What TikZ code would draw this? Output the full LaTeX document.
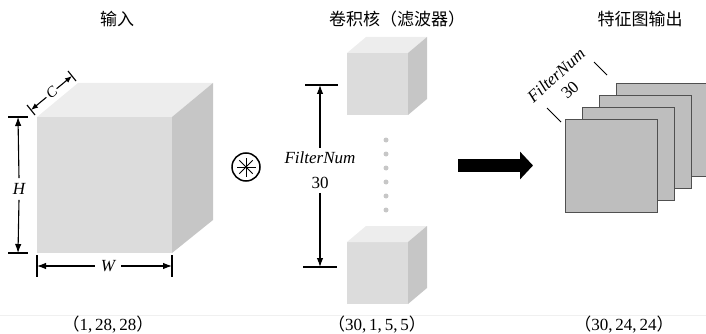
\documentclass[tikz,border=0pt]{standalone}
\usepackage{fontspec}
\setmainfont{Liberation Serif}
\newfontfamily\cjk{Noto Sans CJK SC}
\usetikzlibrary{arrows.meta}
\definecolor{cfront}{HTML}{DCDCDC}
\definecolor{ctop}{HTML}{EDEDED}
\definecolor{cright}{HTML}{C6C6C6}
\definecolor{cmap}{HTML}{BEBEBE}
\definecolor{cmapedge}{HTML}{505050}
\begin{document}
\begin{tikzpicture}[x=1pt,y=-1pt,
  title/.style={font=\cjk\fontsize{17}{17}\selectfont, inner sep=0pt},
  dimlabel/.style={font=\fontsize{17}{17}\selectfont\itshape, inner sep=3pt},
  numlabel/.style={font=\fontsize{17}{17}\selectfont, inner sep=2pt},
  shapelabel/.style={font=\fontsize{17}{17}\selectfont, inner sep=0pt, anchor=base},
  dimarrow/.style={line width=1.1pt, -{Latex[length=9pt,width=6.5pt]}},
  dimtick/.style={line width=1.1pt},
  fmap/.style={fill=cmap, draw=cmapedge, line width=0.9pt},
  dot/.style={circle, fill=black!22, inner sep=0pt, minimum size=5pt}]
\useasboundingbox (0,0) rectangle (706,334);
\clip (0,0) rectangle (706,334);

% faint separator line
\draw[black!6, line width=0.6pt] (0,315) -- (706,315);

% ---------- titles ----------
\node[title] (tin)  at (117,19) {输入};
\node[title] (tker) at (397,19) {卷积核（滤波器）};
\node[title] (tout) at (640,19) {特征图输出};

% ---------- input cube ----------
\fill[cfront] (37,117) rectangle (172,253);
\fill[ctop] (37,117) -- (78,83) -- (213,83) -- (172,117) -- cycle;
\fill[cright] (172,117) -- (213,83) -- (213,220) -- (172,253) -- cycle;

% H dimension
\coordinate (hT) at (18,117);
\coordinate (hB) at (18,253);
\draw[dimtick] (8,117) -- (28,117);
\draw[dimtick] (8,253) -- (28,253);
\node[dimlabel, inner sep=5pt] (hl) at (19,189) {H};
\draw[dimarrow] (hl.north) -- (hT);
\draw[dimarrow] (hl.south) -- (hB);

% W dimension
\coordinate (wL) at (37,266);
\coordinate (wR) at (172,266);
\draw[dimtick] (37,255) -- (37,277);
\draw[dimtick] (172,255) -- (172,277);
\node[dimlabel, inner sep=6pt] (wl) at (108,266) {W};
\draw[dimarrow] (wl.west) -- (wL);
\draw[dimarrow] (wl.east) -- (wR);

% C dimension
\coordinate (cL) at (31,110);
\coordinate (cR) at (72,76);
\draw[dimtick] (35,115) -- (27,105);
\draw[dimtick] (76,81) -- (68,71);
\node[dimlabel, rotate=40, inner sep=1.5pt, font=\fontsize{15}{15}\selectfont\itshape] (cl) at (51.5,93) {C};
\draw[dimarrow, -{Latex[length=7pt,width=5.5pt]}] (cl.west) -- (cL);
\draw[dimarrow, -{Latex[length=7pt,width=5.5pt]}] (cl.east) -- (cR);

% ---------- convolution operator ----------
\node[circle, draw, line width=1.5pt, minimum size=28pt, inner sep=0pt] (conv) at (246,167) {};
\foreach \a in {0,45,90,135}{
  \draw[line width=1pt] (conv.center) ++(\a:9.5) -- ++(\a+180:19);
}

% ---------- filter cubes ----------
\fill[cfront] (347,53) rectangle (408,115);
\fill[ctop] (347,53) -- (366,37) -- (427,37) -- (408,53) -- cycle;
\fill[cright] (408,53) -- (427,37) -- (427,99) -- (408,115) -- cycle;

\fill[cfront] (347,242) rectangle (408,304);
\fill[ctop] (347,242) -- (366,226) -- (427,226) -- (408,242) -- cycle;
\fill[cright] (408,242) -- (427,226) -- (427,288) -- (408,304) -- cycle;

\foreach \yy [count=\i] in {140,154,168,182,196,210}{
  \node[dot] (d\i) at (386,\yy) {};
}

% FilterNum dimension
\coordinate (fT) at (320,85);
\coordinate (fB) at (320,267);
\draw[dimtick] (305,85) -- (338,85);
\draw[dimtick] (303,267) -- (337,267);
\node[dimlabel, inner sep=0pt] (fn) at (320,158) {FilterNum};
\node[numlabel] (fn30) at (320,183) {30};
\draw[dimarrow] ([yshift=4pt]fn.north) -- (fT);
\draw[dimarrow] ([yshift=-2pt]fn30.south) -- (fB);

% ---------- big arrow ----------
\coordinate (aS) at (458,165.5);
\coordinate (aE) at (533,165.5);
\draw[line width=13pt, -{Triangle[length=13pt,width=27pt]}] (aS) -- (aE);

% ---------- feature maps ----------
\draw[fmap] (616,83) rectangle (708,176);
\draw[fmap] (599,95) rectangle (691,188);
\draw[fmap] (582,107) rectangle (674,200);
\draw[fmap] (565,119) rectangle (657,212);

\draw[line width=1pt] (547,108) -- (561,122);
\draw[line width=1pt] (594,62) -- (607,75);
\node[dimlabel, rotate=42, inner sep=0pt] (ofn) at (556,75) {FilterNum};
\node[numlabel, rotate=42, inner sep=0pt] (ofn30) at (570,90) {30};

% ---------- shape labels ----------
\node[shapelabel] (s1) at (108,330) {{\cjk （}1,\,28,\,28{\cjk ）}};
\node[shapelabel] (s2) at (377,330) {{\cjk （}30,\,1,\,5,\,5{\cjk ）}};
\node[shapelabel] (s3) at (624,330) {{\cjk （}30,\,24,\,24{\cjk ）}};
\end{tikzpicture}
\end{document}
